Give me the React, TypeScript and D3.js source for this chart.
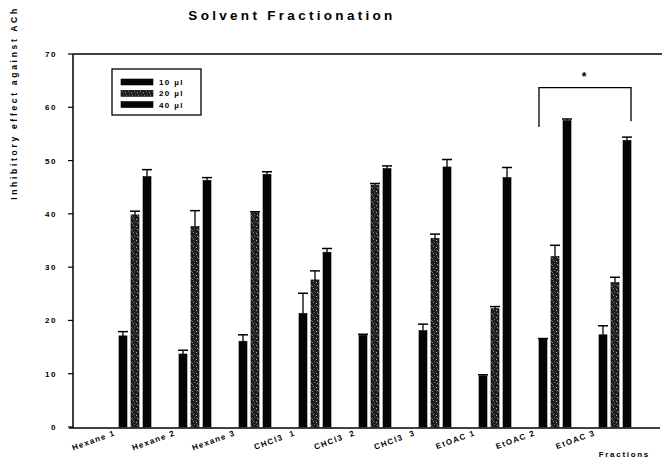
import React from "react";
import * as d3 from "d3";

// Fractions on the x axis
const categories = [
  "Hexane 1", "Hexane 2", "Hexane 3",
  "CHCl3  1", "CHCl3  2", "CHCl3  3",
  "EtOAC 1", "EtOAC 2", "EtOAC 3",
];
const seriesNames = ["10 µl", "20 µl", "40 µl"];

// Mean inhibitory effect per dose
const values10 = [17.1, 13.7, 16.1, 21.3, 17.2, 18.1, 9.6, 16.5, 17.3];
const values20 = [39.8, 37.6, 40.2, 27.6, 45.4, 35.4, 22.2, 32.0, 27.1];
const values40 = [47.0, 46.3, 47.4, 32.8, 48.5, 48.8, 46.8, 57.5, 53.8];

// Upper error (SEM)
const errors10 = [0.8, 0.7, 1.2, 3.8, 0.2, 1.2, 0.2, 0.1, 1.7];
const errors20 = [0.7, 3.0, 0.2, 1.7, 0.3, 0.8, 0.4, 2.1, 1.0];
const errors40 = [1.3, 0.5, 0.5, 0.7, 0.5, 1.4, 1.9, 0.3, 0.6];

const yTicks = [0, 10, 20, 30, 40, 50, 60, 70];

// Significance bracket between EtOAC 2 and EtOAC 3
const bracketFrom = "EtOAC 2";
const bracketTo = "EtOAC 3";
const bracketTop = 63.7;
const bracketLeftEnd = 56.3;
const bracketRightEnd = 57.4;

const W = 664;
const H = 467;
const axisX = 73;
const yBottom = 427;
const yTop = 54;

const font = "Arial, 'Liberation Sans', sans-serif";

export default function App() {
  const y = d3.scaleLinear().domain([0, 70]).range([yBottom, yTop]);
  const x = d3.scaleBand<string>().domain(categories).range([103, 643]).padding(0);
  const inner = d3
    .scaleBand<string>()
    .domain(seriesNames)
    .range([14, 50])
    .paddingInner(0.333)
    .paddingOuter(0.165);

  const seriesData = [
    { name: seriesNames[0], values: values10, errors: errors10, fill: "#050505" },
    { name: seriesNames[1], values: values20, errors: errors20, fill: "url(#speckle)" },
    { name: seriesNames[2], values: values40, errors: errors40, fill: "#050505" },
  ];

  const bw = inner.bandwidth();

  const bx0 = (x(bracketFrom) ?? 0) + (inner(seriesNames[0]) ?? 0);
  const bx1 = (x(bracketTo) ?? 0) + (inner(seriesNames[2]) ?? 0) + bw;

  return (
    <div style={{ position: "fixed", left: 0, top: 0 }}>
      <svg width={W} height={H} style={{ display: "block", background: "#fff" }}>
        <defs>
          <pattern id="speckle" width="6" height="7" patternUnits="userSpaceOnUse">
            <rect width="6" height="7" fill="#1e1e1e" />
            <rect x="1" y="1" width="1" height="1" fill="#8a8a8a" />
            <rect x="4" y="2" width="1" height="1" fill="#b8b8b8" />
            <rect x="2" y="4" width="1" height="1" fill="#6a6a6a" />
            <rect x="5" y="5" width="1" height="1" fill="#a0a0a0" />
            <rect x="0" y="6" width="1" height="1" fill="#7c7c7c" />
          </pattern>
        </defs>

        {/* Title */}
        <text
          x={292}
          y={20}
          textAnchor="middle"
          fontFamily={font}
          fontWeight="bold"
          fontSize={13.5}
          letterSpacing={3.3}
        >
          Solvent Fractionation
        </text>

        {/* Y axis title */}
        <text
          transform={`translate(17,103) rotate(-90)`}
          textAnchor="middle"
          fontFamily={font}
          fontWeight="bold"
          fontSize={8.5}
          letterSpacing={2.7}
        >
          Inhibitory effect against ACh
        </text>

        {/* Frame */}
        <line x1={axisX} x2={662} y1={yTop} y2={yTop} stroke="#000" strokeWidth={1.5} />
        <line x1={axisX} x2={axisX} y1={yTop} y2={yBottom + 1} stroke="#000" strokeWidth={1.5} />
        <line x1={axisX - 4} x2={660} y1={yBottom + 1} y2={yBottom + 1} stroke="#000" strokeWidth={1.5} />

        {/* Y ticks */}
        {yTicks.map((t) => (
          <g key={t}>
            <line x1={axisX - 5} x2={axisX} y1={y(t)} y2={y(t)} stroke="#000" strokeWidth={1.2} />
            <text
              x={axisX - 16}
              y={y(t) + 3}
              textAnchor="end"
              fontFamily={font}
              fontWeight="bold"
              fontSize={8}
              letterSpacing={1.6}
            >
              {t}
            </text>
          </g>
        ))}

        {/* Bars with error bars */}
        {seriesData.map((s) =>
          categories.map((c, i) => {
            const bx = (x(c) ?? 0) + (inner(s.name) ?? 0);
            const cx = bx + bw / 2;
            const top = y(s.values[i]);
            const errTop = y(s.values[i] + s.errors[i]);
            return (
              <g key={s.name + c}>
                <line x1={cx} x2={cx} y1={top} y2={errTop} stroke="#000" strokeWidth={1.3} />
                <line x1={cx - 5} x2={cx + 5} y1={errTop} y2={errTop} stroke="#000" strokeWidth={1.5} />
                <rect x={bx} y={top} width={bw} height={yBottom - top} fill={s.fill} stroke="#000" strokeWidth={0.6} />
              </g>
            );
          })
        )}

        {/* X category labels */}
        {categories.map((c) => (
          <text
            key={c}
            transform={`translate(${(x(c) ?? 0) + 13},${yBottom + 8}) rotate(-20)`}
            textAnchor="end"
            fontFamily={font}
            fontWeight="bold"
            fontSize={8}
            letterSpacing={1.3}
            style={{ whiteSpace: "pre" }}
          >
            {c}
          </text>
        ))}

        <text
          x={650}
          y={457}
          textAnchor="end"
          fontFamily={font}
          fontWeight="bold"
          fontSize={8}
          letterSpacing={1.7}
        >
          Fractions
        </text>

        {/* Significance bracket */}
        <path
          d={`M${bx0},${y(bracketLeftEnd)} V${y(bracketTop)} H${bx1} V${y(bracketRightEnd)}`}
          fill="none"
          stroke="#000"
          strokeWidth={1.3}
        />
        <text
          x={(bx0 + bx1) / 2 - 1}
          y={y(bracketTop) - 7}
          textAnchor="middle"
          fontFamily={font}
          fontWeight="bold"
          fontSize={12}
        >
          *
        </text>

        {/* Legend */}
        <rect x={112} y={69} width={89} height={46} fill="#fff" stroke="#000" strokeWidth={1.3} />
        {seriesData.map((s, i) => (
          <g key={s.name} transform={`translate(121,${79 + i * 11.3})`}>
            <rect width={32} height={6} fill={s.fill} stroke="#000" strokeWidth={0.6} />
            <text
              x={38}
              y={6}
              fontFamily={font}
              fontWeight="bold"
              fontSize={8}
              letterSpacing={1.4}
              style={{ whiteSpace: "pre" }}
            >
              {s.name}
            </text>
          </g>
        ))}
      </svg>
    </div>
  );
}
